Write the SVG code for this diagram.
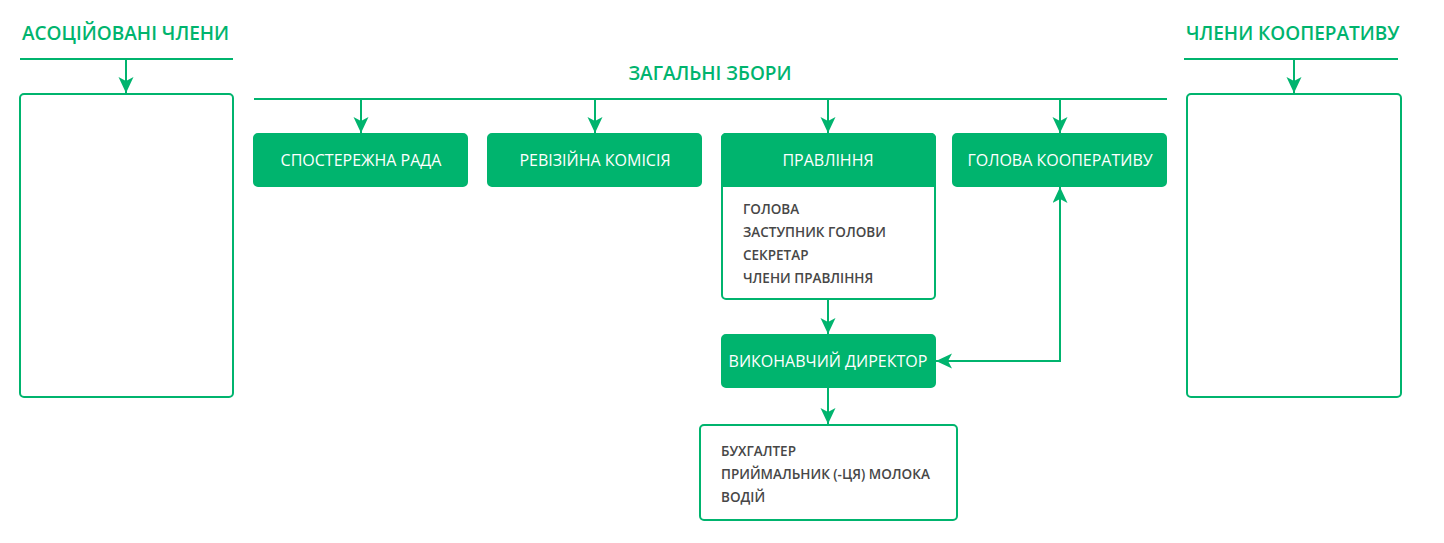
<svg xmlns="http://www.w3.org/2000/svg" width="1444" height="543" viewBox="0 0 1444 543">
<style>
.hdr{font-family:"Open Sans","Noto Sans",sans-serif;font-size:19px;font-weight:600;fill:#00B46E}
.box{fill:#00B46E;stroke:#00B46E;stroke-width:2}
.obox{fill:#fff;stroke:#00B46E;stroke-width:2}
.lbl{font-family:"Open Sans","Noto Sans",sans-serif;font-size:16px;fill:#fff;text-anchor:middle}
.item{font-family:"Open Sans","Noto Sans",sans-serif;font-size:13.5px;font-weight:600;fill:#474747}
.ln{stroke:#00B46E;stroke-width:2;fill:none}
</style>
<defs>
<marker id="ah" markerWidth="18" markerHeight="16" refX="16" refY="7.5" orient="auto" markerUnits="userSpaceOnUse">
<path d="M0,0 L16,7.5 L0,15 L4,7.5 Z" fill="#00B46E"/>
</marker>
<marker id="ahs" markerWidth="18" markerHeight="16" refX="16" refY="7.5" orient="auto-start-reverse" markerUnits="userSpaceOnUse">
<path d="M0,0 L16,7.5 L0,15 L4,7.5 Z" fill="#00B46E"/>
</marker>
</defs>
<rect width="1444" height="543" fill="#fff"/>

<g id="connectors">
<line class="ln" x1="20" y1="59" x2="233" y2="59"/>
<line class="ln" x1="126" y1="59" x2="126" y2="93" marker-end="url(#ah)"/>
<line class="ln" x1="1184" y1="59" x2="1398" y2="59"/>
<line class="ln" x1="1294" y1="59" x2="1294" y2="93" marker-end="url(#ah)"/>
<line class="ln" x1="254" y1="99" x2="1167" y2="99"/>
<line class="ln" x1="361" y1="99" x2="361" y2="133" marker-end="url(#ah)"/>
<line class="ln" x1="595" y1="99" x2="595" y2="133" marker-end="url(#ah)"/>
<line class="ln" x1="828" y1="99" x2="828" y2="133" marker-end="url(#ah)"/>
<line class="ln" x1="1060" y1="99" x2="1060" y2="133" marker-end="url(#ah)"/>
<line class="ln" x1="828" y1="300" x2="828" y2="334" marker-end="url(#ah)"/>
<line class="ln" x1="828" y1="388" x2="828" y2="424" marker-end="url(#ah)"/>
<polyline class="ln" points="1060,187 1060,361 936,361" marker-start="url(#ahs)" marker-end="url(#ah)"/>
</g>

<g id="assoc">
<text class="hdr" x="22" y="40">АСОЦІЙОВАНІ ЧЛЕНИ</text>
<rect class="obox" x="20" y="94" width="213" height="303" rx="4"/>
</g>

<g id="members">
<text class="hdr" x="1186" y="40">ЧЛЕНИ КООПЕРАТИВУ</text>
<rect class="obox" x="1187" y="94" width="214" height="303" rx="4"/>
</g>

<g id="general">
<text class="hdr" x="710" y="80" text-anchor="middle">ЗАГАЛЬНІ ЗБОРИ</text>
</g>

<g id="supervisory">
<rect class="box" x="254" y="134" width="213" height="52" rx="4"/>
<text class="lbl" x="361" y="166">СПОСТЕРЕЖНА РАДА</text>
</g>

<g id="audit">
<rect class="box" x="488" y="134" width="213" height="52" rx="4"/>
<text class="lbl" x="595" y="166">РЕВІЗІЙНА КОМІСІЯ</text>
</g>

<g id="board">
<rect class="obox" x="722" y="134" width="213" height="165" rx="4"/>
<path d="M722,186 V138 a4,4 0 0 1 4,-4 H931 a4,4 0 0 1 4,4 V186 Z" fill="#00B46E" stroke="#00B46E" stroke-width="2"/>
<text class="lbl" x="828" y="166">ПРАВЛІННЯ</text>
<text class="item" x="743" y="214">ГОЛОВА</text>
<text class="item" x="743" y="237">ЗАСТУПНИК ГОЛОВИ</text>
<text class="item" x="743" y="260">СЕКРЕТАР</text>
<text class="item" x="743" y="283">ЧЛЕНИ ПРАВЛІННЯ</text>
</g>

<g id="chairman">
<rect class="box" x="953" y="134" width="213" height="52" rx="4"/>
<text class="lbl" x="1060" y="166">ГОЛОВА КООПЕРАТИВУ</text>
</g>

<g id="director">
<rect class="box" x="722" y="335" width="213" height="52" rx="4"/>
<text class="lbl" x="828" y="367">ВИКОНАВЧИЙ ДИРЕКТОР</text>
</g>

<g id="staff">
<rect class="obox" x="700" y="425" width="257" height="95" rx="4"/>
<text class="item" x="721" y="456">БУХГАЛТЕР</text>
<text class="item" x="721" y="479">ПРИЙМАЛЬНИК (-ЦЯ) МОЛОКА</text>
<text class="item" x="721" y="502">ВОДІЙ</text>
</g>
</svg>
